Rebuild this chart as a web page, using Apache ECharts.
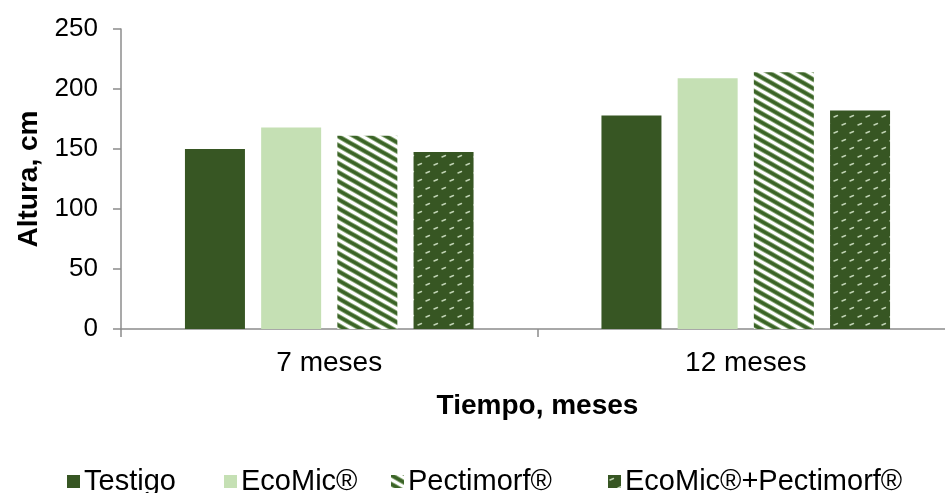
<!DOCTYPE html>
<html>
<head>
<meta charset="utf-8">
<script src="https://cdn.jsdelivr.net/npm/echarts@6/dist/echarts.min.js"></script>
<style>
  html, body { margin: 0; padding: 0; background: #ffffff; }
  #chart { width: 945px; height: 493px; }
</style>
</head>
<body>
<div id="chart"></div>
<script>
// Plant height by treatment and time
const categories = ['7 meses', '12 meses'];
const seriesNames = ['Testigo', 'EcoMic®', 'Pectimorf®', 'EcoMic®+Pectimorf®'];
const testigo = [150, 178];
const ecomic = [168, 209];
const pectimorf = [161, 214];
const combinado = [147.5, 182];
const yTicks = [0, 50, 100, 150, 200, 250];

const FONT = 'Liberation Sans, Arial, sans-serif';
const DARK = '#375623';
const LIGHT = '#c5e0b4';

// Diagonal stripe tile: white ground with dark green bands falling to the right
function stripeTile() {
  const W = 16, H = 9;
  const c = document.createElement('canvas');
  c.width = W; c.height = H;
  const g = c.getContext('2d');
  g.fillStyle = '#ffffff';
  g.fillRect(0, 0, W, H);
  const draw = (width, color) => {
    g.strokeStyle = color;
    g.lineWidth = width;
    for (let k = -2; k <= 2; k++) {
      g.beginPath();
      g.moveTo(-2, -2 * H / W + k * H);
      g.lineTo(W + 2, (W + 2) * H / W + k * H);
      g.stroke();
    }
  };
  draw(5, '#8aa878');
  draw(3.2, '#3b6427');
  return c;
}

// Dotted tile: dark green ground with small light dashes in staggered rows
function dashTile() {
  const W = 16, H = 16;
  const c = document.createElement('canvas');
  c.width = W; c.height = H;
  const g = c.getContext('2d');
  g.fillStyle = DARK;
  g.fillRect(0, 0, W, H);
  g.strokeStyle = 'rgba(215,232,205,0.85)';
  g.lineWidth = 1.4;
  g.lineCap = 'round';
  [[2, 5], [10, 13]].forEach(([x, y]) => {
    g.beginPath();
    g.moveTo(x, y);
    g.lineTo(x + 3.5, y - 1.5);
    g.stroke();
  });
  return c;
}

const stripeFill = { image: stripeTile(), repeat: 'repeat' };
const dashFill = { image: dashTile(), repeat: 'repeat' };

const chart = echarts.init(document.getElementById('chart'), null, { renderer: 'canvas' });

const axisGray = '#8c8c8c';

// One legend block per treatment so each entry keeps its own slot
const legendLeft = [62, 219, 386, 603];
const legends = seriesNames.map((name, i) => ({
  left: legendLeft[i],
  top: 462,
  itemWidth: 13,
  itemHeight: 13,
  icon: 'rect',
  textStyle: { fontFamily: FONT, fontSize: 29, color: '#000000', padding: [0, 0, 0, -1] },
  data: [name]
}));

chart.setOption({
  animation: false,
  backgroundColor: '#ffffff',
  grid: { left: 121, right: -9, top: 29, bottom: 164, outerBoundsMode: 'none', containLabel: false },
  legend: legends,
  xAxis: {
    type: 'category',
    data: categories,
    name: 'Tiempo, meses',
    nameLocation: 'middle',
    nameGap: 63,
    nameTextStyle: { fontFamily: FONT, fontSize: 28, fontWeight: 'bold', color: '#000000' },
    axisLine: { lineStyle: { color: axisGray, width: 1.5 } },
    axisTick: { show: true, length: 8, lineStyle: { color: axisGray, width: 1.5 } },
    axisLabel: { fontFamily: FONT, fontSize: 28, color: '#000000', margin: 20 }
  },
  yAxis: {
    type: 'value',
    min: yTicks[0],
    max: yTicks[yTicks.length - 1],
    interval: yTicks[1] - yTicks[0],
    name: 'Altura, cm',
    nameLocation: 'middle',
    nameGap: 70,
    nameTextStyle: { fontFamily: FONT, fontSize: 28, fontWeight: 'bold', color: '#000000' },
    axisLine: { show: true, lineStyle: { color: axisGray, width: 1.5 } },
    axisTick: { show: true, length: 8, lineStyle: { color: axisGray, width: 1.5 } },
    splitLine: { show: false },
    axisLabel: { fontFamily: FONT, fontSize: 26, color: '#000000', margin: 23 }
  },
  series: [
    { name: seriesNames[0], type: 'bar', data: testigo, barWidth: 60, barGap: '27%', itemStyle: { color: DARK } },
    { name: seriesNames[1], type: 'bar', data: ecomic, barWidth: 60, barGap: '27%', itemStyle: { color: LIGHT } },
    { name: seriesNames[2], type: 'bar', data: pectimorf, barWidth: 60, barGap: '27%', itemStyle: { color: stripeFill } },
    { name: seriesNames[3], type: 'bar', data: combinado, barWidth: 60, barGap: '27%', itemStyle: { color: dashFill } }
  ]
});
</script>
</body>
</html>
